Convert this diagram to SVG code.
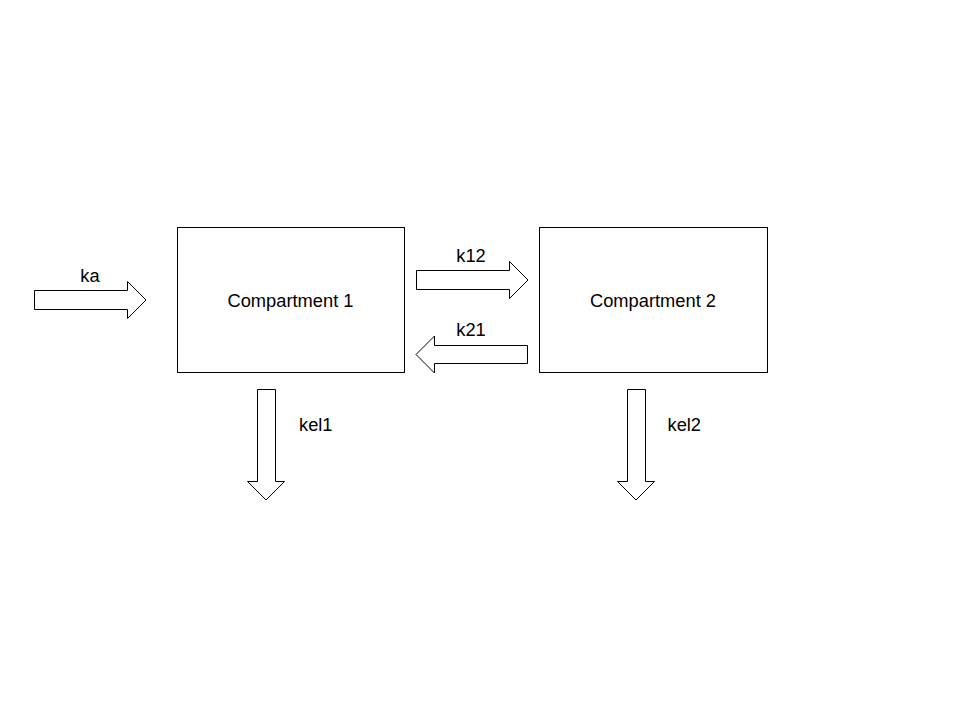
<svg xmlns="http://www.w3.org/2000/svg" width="960" height="720" viewBox="0 0 960 720">
  <style>
    .box { fill: #ffffff; stroke: #000000; stroke-width: 1; }
    .flow { fill: #ffffff; stroke: #000000; stroke-width: 1; stroke-linejoin: miter; }
    .lbl { font-family: "Liberation Sans", Arial, sans-serif; font-size: 18.3px; fill: #000000; }
    .mid { text-anchor: middle; }
  </style>
  <rect width="960" height="720" fill="#ffffff"/>

  <!-- compartments -->
  <g id="compartment1">
    <rect class="box" x="177.5" y="227.5" width="227" height="145"/>
    <text class="lbl mid" x="290.5" y="307">Compartment 1</text>
  </g>
  <g id="compartment2">
    <rect class="box" x="539.5" y="227.5" width="228" height="145"/>
    <text class="lbl mid" x="653" y="307">Compartment 2</text>
  </g>

  <!-- rate arrows (block arrows) -->
  <g id="connectors">
    <g id="ka">
      <polygon class="flow" points="34.5,290.5 127.5,290.5 127.5,281.5 146,300 127.5,318.5 127.5,309.5 34.5,309.5"/>
      <text class="lbl mid" x="90" y="282">ka</text>
    </g>
    <g id="k12">
      <polygon class="flow" points="416.5,270.5 509.5,270.5 509.5,261.5 528,280 509.5,298.5 509.5,289.5 416.5,289.5"/>
      <text class="lbl mid" x="471" y="262">k12</text>
    </g>
    <g id="k21">
      <polygon class="flow" points="527.5,345.5 434.5,345.5 434.5,336 416,354.5 434.5,373 434.5,363.5 527.5,363.5"/>
      <text class="lbl mid" x="471" y="336">k21</text>
    </g>
    <g id="kel1">
      <polygon class="flow" points="257.5,389.5 275.5,389.5 275.5,481.5 284.5,481.5 266,500 247.5,481.5 257.5,481.5"/>
      <text class="lbl" x="299" y="431">kel1</text>
    </g>
    <g id="kel2">
      <polygon class="flow" points="627.5,389.5 645.5,389.5 645.5,481.5 654.5,481.5 636,500 617.5,481.5 627.5,481.5"/>
      <text class="lbl" x="667.5" y="431">kel2</text>
    </g>
  </g>
</svg>
